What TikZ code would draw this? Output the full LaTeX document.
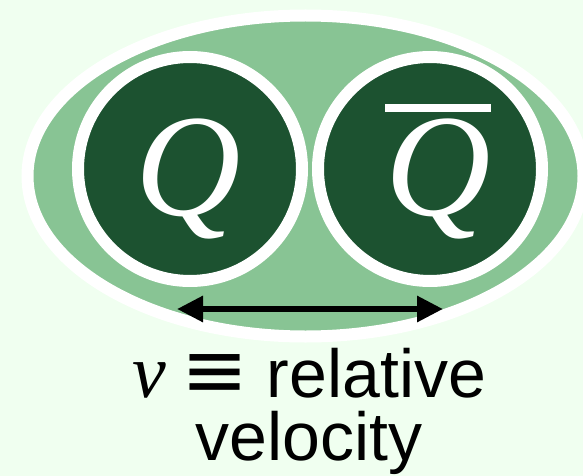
\documentclass[tikz,border=0pt]{standalone}
\usepackage{fontspec}
\newfontfamily\labelfont{Liberation Sans}
\newfontfamily\qfont{Liberation Serif}
\newfontfamily\symfont{DejaVu Sans}
\usetikzlibrary{arrows.meta}
\definecolor{bgmint}{HTML}{F0FFF0}
\definecolor{halo}{HTML}{88C494}
\definecolor{quark}{HTML}{1C5230}
% antiquark: letter with a bar of its own width
\newcommand{\barQ}{\setbox0\hbox{Q}\vbox{\hrule height 8pt width \wd0\kern 6pt\box0}}
\begin{document}
\begin{tikzpicture}[x=1pt,y=-1pt,
 qq/.style={circle,draw=white,line width=12pt,fill=quark,minimum size=224pt,inner sep=0pt},
 qlab/.style={text=white,anchor=base,inner sep=0pt,font=\qfont\itshape\fontsize{146}{146}\selectfont},
 lab/.style={anchor=base,inner sep=0pt,font=\labelfont\fontsize{68}{68}\selectfont},
 ar/.style={{Triangle[length=26pt,width=25pt]}-{Triangle[length=26pt,width=25pt]},line width=6pt}]
\fill[bgmint] (0,0) rectangle (583,476);
\useasboundingbox (0,0) rectangle (583,476);
\draw[white,fill=halo,line width=12pt] (305.5,176) ellipse [x radius=278pt,y radius=160.5pt];
\node[qq] (cL) at (190,169) {};
\node[qq] (cR) at (430,169) {};
\node[qlab] (qL) at (188,215) {Q};
\node[qlab] (qR) at (438,215) {\barQ};
\coordinate (aL) at (177,309);
\coordinate (aR) at (443,309);
\draw[ar] (aL) -- (aR);
\node[lab] (vel1) at (309,397) {{\qfont\itshape\fontsize{76}{76}\selectfont v}\kern 16pt{\symfont\fontsize{80}{80}\selectfont ≡}\kern 18pt relative};
\node[lab] (vel2) at (309,460) {velocity};
\end{tikzpicture}
\end{document}
